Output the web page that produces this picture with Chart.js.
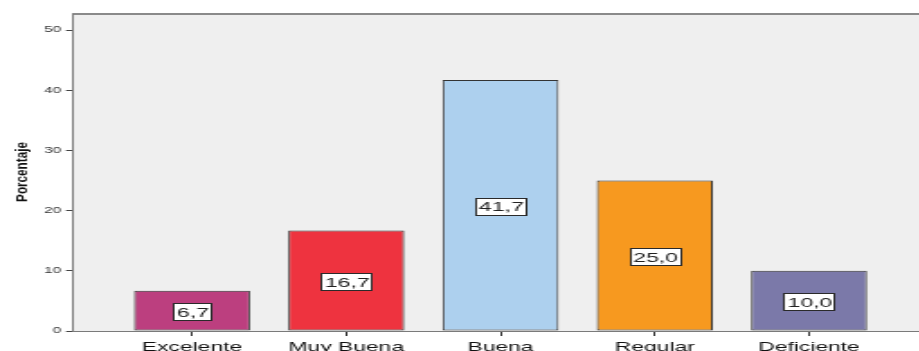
<!DOCTYPE html>
<html>
<head>
<meta charset="utf-8">
<script src="https://cdn.jsdelivr.net/npm/chart.js@4/dist/chart.umd.min.js"></script>
<style>
  html, body { margin: 0; padding: 0; background: #fff; overflow: hidden; width: 919px; height: 351px; }
  #chart { display: block; transform: scaleX(1.8); transform-origin: 0 0; }
</style>
</head>
<body>
<canvas id="chart" width="520" height="362"></canvas>
<script>
// Porcentaje por categoría de valoración (gráfico de barras estilo SPSS).

const categories = ['Excelente', 'Muy Buena', 'Buena', 'Regular', 'Deficiente'];
const percentages = [6.7, 16.7, 41.7, 25.0, 10.0];
const yTicks = [0, 10, 20, 30, 40, 50];
const yTitle = 'Porcentaje';

const barColors = ['#bc3f7f', '#ee333f', '#add0ee', '#f7991f', '#7b79a9'];
const STRETCH = 1.8;   // canvas is widened by CSS, text gets the wide SPSS look
const CANVAS_H = 362;
const PLOT_BOTTOM = 331;

Chart.defaults.font.family = '"Liberation Sans", Arial, sans-serif';

const fmt = v => v.toFixed(1).replace('.', ',');

// grey plot background + top frame line
const plotBackground = {
  id: 'plotBackground',
  beforeDraw(chart) {
    const {ctx, chartArea: a} = chart;
    ctx.save();
    ctx.fillStyle = '#efefef';
    ctx.fillRect(a.left, a.top, a.right - a.left, a.bottom - a.top);
    ctx.fillStyle = '#8a8a8a';
    ctx.fillRect(a.left, a.top - 1, a.right - a.left, 2);
    ctx.restore();
  }
};

// boxed value labels in the middle of each bar
const boxLabels = {
  id: 'boxLabels',
  afterDatasetsDraw(chart) {
    const {ctx} = chart;
    const meta = chart.getDatasetMeta(0);
    ctx.save();
    ctx.font = '12.8px "Liberation Sans", Arial, sans-serif';
    ctx.textAlign = 'center';
    ctx.textBaseline = 'middle';
    meta.data.forEach((bar, i) => {
      const text = fmt(percentages[i]);
      const w = Math.round(ctx.measureText(text).width + 3);
      const h = 17;
      const cx = bar.x;
      const cy = (bar.y + bar.base) / 2 + 1;
      const left = Math.round(cx - w / 2);
      const top = Math.round(cy - h / 2);
      ctx.fillStyle = '#fff';
      ctx.fillRect(left, top, w, h);
      ctx.strokeStyle = '#2a2a2a';
      ctx.lineWidth = 1;
      ctx.strokeRect(left + 0.5, top + 0.5, w, h);
      ctx.fillStyle = '#222';
      ctx.fillText(text, cx + 0.5, cy + 1.5);
    });
    ctx.restore();
  }
};

// rotated y title, partly un-stretched so it keeps its narrow look
const yTitlePlugin = {
  id: 'yTitlePlugin',
  afterDraw(chart) {
    const {ctx} = chart;
    ctx.save();
    ctx.translate(22 / STRETCH, 172);
    ctx.scale(1.3 / STRETCH, 1);
    ctx.rotate(-Math.PI / 2);
    ctx.font = 'bold 11.7px "Liberation Sans", Arial, sans-serif';
    ctx.fillStyle = '#111';
    ctx.textAlign = 'center';
    ctx.textBaseline = 'middle';
    ctx.fillText(yTitle, 0, 0);
    ctx.restore();
  }
};

new Chart(document.getElementById('chart'), {
  type: 'bar',
  data: {
    datasets: [{
      data: percentages.map((v, i) => ({x: i, y: v})),
      backgroundColor: barColors,
      borderColor: '#333',
      borderWidth: 1,
      borderSkipped: false,
      barPercentage: 0.752,
      categoryPercentage: 1
    }]
  },
  options: {
    responsive: false,
    animation: false,
    events: [],
    layout: { padding: { top: 14, left: 0, right: 0, bottom: 0 } },
    plugins: { legend: { display: false }, tooltip: { enabled: false } },
    scales: {
      x: {
        type: 'linear',
        min: -0.778,
        max: 4.823,
        offset: false,
        afterBuildTicks: s => { s.ticks = categories.map((_, i) => ({value: i})); },
        afterFit: s => { s.height = CANVAS_H - PLOT_BOTTOM; },
        grid: { display: true, drawOnChartArea: false, drawTicks: true, tickLength: 5, color: '#333', offset: false },
        border: { display: true, color: '#7a7a7a', width: 1 },
        ticks: {
          autoSkip: false,
          maxRotation: 0,
          padding: 3.5,
          color: '#111',
          font: { size: 12.7 },
          callback: v => categories[v]
        }
      },
      y: {
        min: 0,
        max: 52.66,
        afterBuildTicks: s => { s.ticks = yTicks.map(v => ({value: v})); },
        afterFit: s => { s.width = 72 / STRETCH; },
        grid: { display: true, drawOnChartArea: false, drawTicks: true, tickLength: 3.3, color: '#444' },
        border: { display: true, color: '#7a7a7a', width: 1 },
        ticks: { padding: 2.8, color: '#333', font: { size: 8.5 } }
      }
    }
  },
  plugins: [plotBackground, boxLabels, yTitlePlugin]
});
</script>
</body>
</html>
